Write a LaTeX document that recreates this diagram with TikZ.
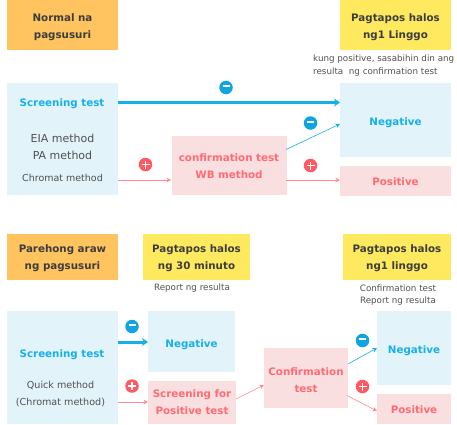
\documentclass[tikz,border=0pt]{standalone}
\usepackage{fontspec}
\setmainfont{DejaVu Sans}
\usetikzlibrary{arrows.meta}
\definecolor{orangebox}{HTML}{FFC35F}
\definecolor{yellowbox}{HTML}{FFE95F}
\definecolor{bluebox}{HTML}{E3F3FA}
\definecolor{pinkbox}{HTML}{FADFE1}
\definecolor{bluetxt}{HTML}{14B0E8}
\definecolor{redtxt}{HTML}{FF6B72}
\definecolor{bluecirc}{HTML}{0FA5E0}
\definecolor{redcirc}{HTML}{FF5A62}
\definecolor{pinkline}{HTML}{FF8A90}
\definecolor{darktxt}{HTML}{3C3C3C}
\definecolor{greytxt}{HTML}{505050}
\tikzset{
  x=1pt,y=-1pt,
  box/.style={inner sep=0pt,outer sep=0pt,font=\fontsize{10.3}{17}\selectfont\bfseries},
  head/.style={box,text=darktxt},
  orangeb/.style={head,fill=orangebox},
  yellowb/.style={head,fill=yellowbox},
  blueb/.style={box,fill=bluebox,text=bluetxt},
  pinkb/.style={box,fill=pinkbox,text=redtxt},
  size/.style args={#1x#2}{minimum width=#1pt,minimum height=#2pt},
  bluelabel/.style={box,text=bluetxt},
  method/.style={inner sep=0pt,align=center,text=greytxt,font=\fontsize{11}{17.3}\selectfont},
  small/.style={inner sep=0pt,align=#1,text=greytxt,font=\fontsize{8.75}{12.6}\selectfont},
  minus/.style={circle,fill=bluecirc,inner sep=0pt,minimum size=13.5pt,text=white},
  plus/.style={circle,fill=redcirc,inner sep=0pt,minimum size=13.5pt,text=white},
  bluearrow/.style={draw=bluetxt,line width=0.6pt,-{Stealth[length=4.5pt,width=4.5pt]}},
  thickarrow/.style={draw=bluetxt,line width=3pt,-{Stealth[length=6pt,width=8pt]}},
  redarrow/.style={draw=pinkline,line width=0.6pt,-{Stealth[length=4.5pt,width=4.5pt]}},
}
\newcommand{\mn}{\rule[2.6pt]{7pt}{1.9pt}}
\newcommand{\pl}{\makebox[0pt]{\rule[2.6pt]{8pt}{1.9pt}}\makebox[0pt]{\rule[-0.45pt]{1.9pt}{8pt}}}
\newcommand{\dn}[2]{\raisebox{-#1pt}[0pt][0pt]{#2}}
\newcommand{\two}[3]{\raisebox{-#1pt}[0pt][0pt]{\begin{tabular}{@{}c@{}}#2\\#3\end{tabular}}}
\begin{document}
\begin{tikzpicture}
\useasboundingbox (0,0) rectangle (457,424);
% top
\node[orangeb,size=111x50.5] (normal) at (62.5,25.2) {\two{3.8}{Normal na}{pagsusuri}};
\node[yellowb,size=111x50.5] (week) at (395.5,25.2) {\two{3.8}{Pagtapos halos}{ng1 Linggo}};
\node[small=left,anchor=west] (note) at (313,65.5) {kung positive, sasabihin din ang\\resulta\ \ ng confirmation test};
\node[blueb,size=111x112] (scr) at (62.5,139) {};
\node[bluelabel] (scrt) at (62,102.5) {\dn{4}{Screening test}};
\node[method] (eia) at (62.5,147) {EIA method\\PA method};
\node[method,font=\fontsize{9.5}{12}\selectfont] (chromat) at (62.5,178) {Chromat method};
\node[pinkb,size=115x59] (conf) at (229,165.5) {\two{3.2}{confirmation test}{WB method}};
\node[blueb,size=111x74] (neg) at (395.5,120) {\dn{5}{Negative}};
\node[pinkb,size=111x29.5] (pos) at (395.5,181) {\dn{4.2}{Positive}};
\coordinate (a1) at (118,102.5);
\coordinate (a2) at (340,102.5);
\coordinate (b1) at (118,180);
\coordinate (b2) at (171,180);
\coordinate (c1) at (286,149.5);
\coordinate (c2) at (340,124);
\coordinate (d1) at (286,180);
\coordinate (d2) at (340,180);
\draw[thickarrow] (a1) -- (a2);
\draw[redarrow] (b1) -- (b2);
\draw[bluearrow] (c1) -- (c2);
\draw[redarrow] (d1) -- (d2);
\node[minus] (m1) at (226,87.5) {\mn};
\node[minus] (m2) at (310.5,123) {\mn};
\node[plus] (p1) at (145.5,164.5) {\pl};
\node[plus] (p2) at (310.5,165.5) {\pl};
% bottom
\node[orangeb,size=111x45.5] (same) at (62.5,256.8) {\two{2.8}{Parehong araw}{ng pagsusuri}};
\node[yellowb,size=107x45.5] (min) at (196.5,256.8) {\two{2.8}{Pagtapos halos}{ng 30 minuto}};
\node[yellowb,size=108x45.5] (week2) at (397,256.8) {\two{2.8}{Pagtapos halos}{ng1 linggo}};
\node[small=center] (rep1) at (192,288.5) {Report ng resulta};
\node[small=center] (rep2) at (398,295) {Confirmation test\\Report ng resulta};
\node[blueb,size=111x113] (scr2) at (62.5,367.5) {};
\node[bluelabel] (scr2t) at (62,353) {\dn{4}{Screening test}};
\node[method,font=\fontsize{9.6}{17}\selectfont] (quick) at (60.5,394) {Quick method\\(Chromat method)};
\node[blueb,size=87x61] (neg2) at (191.5,341.5) {\dn{5.6}{Negative}};
\node[pinkb,size=88x43] (sfp) at (192,402.5) {\two{2.8}{Screening for}{Positive test}};
\node[pinkb,size=84x60] (conf2) at (306,378) {\two{5.4}{Confirmation}{test}};
\node[blueb,size=74x74] (neg3) at (414,348) {\dn{5.6}{Negative}};
\node[pinkb,size=74x30] (pos3) at (414,409) {\dn{4.1}{Positive}};
\coordinate (e1) at (118,342);
\coordinate (e2) at (148,342);
\coordinate (f1) at (118,402);
\coordinate (f2) at (148,402);
\coordinate (g1) at (236,399);
\coordinate (g2) at (264,385);
\coordinate (h1) at (348,364);
\coordinate (h2) at (377,348);
\coordinate (i1) at (347,395.5);
\coordinate (i2) at (377,411);
\draw[thickarrow] (e1) -- (e2);
\draw[redarrow] (f1) -- (f2);
\draw[redarrow] (g1) -- (g2);
\draw[bluearrow] (h1) -- (h2);
\draw[redarrow] (i1) -- (i2);
\node[minus] (m3) at (132,326.5) {\mn};
\node[plus] (p3) at (132,386) {\pl};
\node[minus] (m4) at (362.5,340.5) {\mn};
\node[plus] (p4) at (362.5,386.5) {\pl};
\end{tikzpicture}
\end{document}
